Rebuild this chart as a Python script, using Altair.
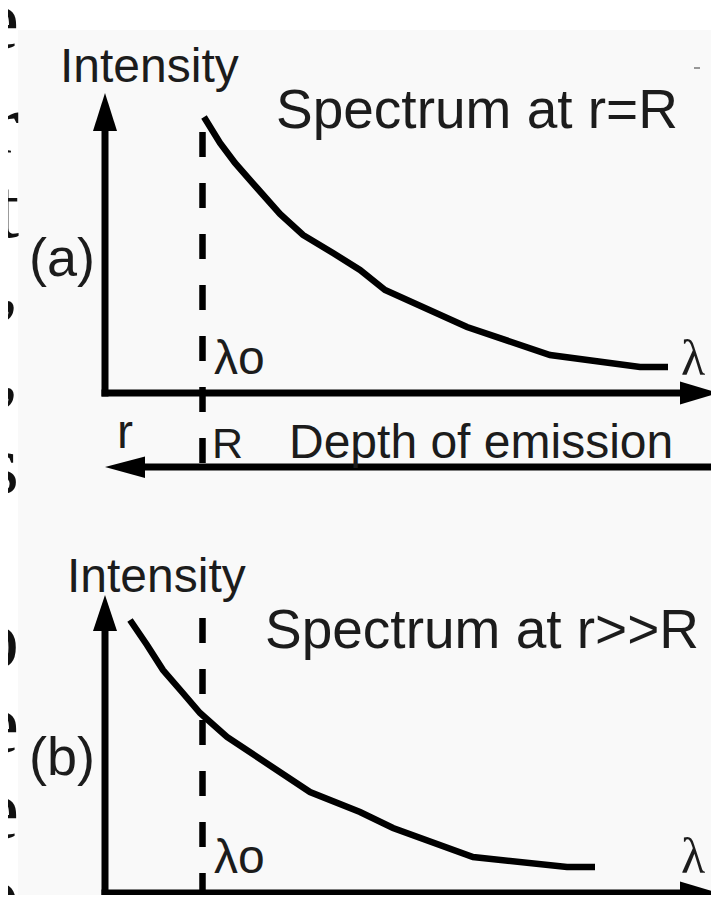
import altair as alt
import pandas as pd

# ---- schematic data (diagram units) ----
# spectrum curve, panel (a): Spectrum at r=R
curve_a_x = [204, 220, 235, 257, 280, 303, 333, 360, 385, 467, 550, 640, 668]
curve_a_y = [117, 143, 163, 188, 214, 235, 253, 270, 290, 327, 355, 367, 367]
# spectrum curve, panel (b): Spectrum at r>>R
curve_b_x = [130, 147, 163, 182, 200, 227, 310, 360, 393, 473, 567, 595]
curve_b_y = [620, 645, 670, 692, 713, 737, 792, 812, 828, 857, 867, 867]

# axis segments: name, x, x2, y, y2
axis_names = ["a_y", "a_x", "depth", "b_y", "b_x"]
axis_x1 = [105, 101.5, 130, 105, 101.5]
axis_x2 = [105, 685, 719, 105, 685]
axis_y1 = [120, 393, 467, 625, 893]
axis_y2 = [396.5, 393, 467, 896.5, 893]

# dashed lambda0 / R markers: x, y-start, y-end
dash_x = [202.5, 202.5]
dash_y1 = [132, 618]
dash_y2 = [463, 895]

# horizontal arrowheads (tip and base): id, x, y, y2
harrow_id = ["a", "a", "b", "b", "d", "d"]
harrow_x = [680, 719, 680, 719, 145, 105]
harrow_y = [381.5, 393, 881.5, 893, 456.5, 467]
harrow_y2 = [404.5, 393, 904.5, 893, 478, 467]

# vertical arrowheads: id, y, x, x2
varrow_id = ["a", "a", "b", "b"]
varrow_y = [93, 131, 595, 631]
varrow_x = [105, 93, 105, 93]
varrow_x2 = [105, 117, 105, 117]

# sans-serif labels: text, x, baseline, size
sans_text = ["Intensity", "Spectrum at r=R", "(a)", "λo", "r", "R",
             "Depth of emission", "Intensity", "Spectrum at r>>R", "(b)", "λo"]
sans_x = [60, 276, 29, 214, 117, 212, 289, 67, 265, 29, 214]
sans_y = [82, 128, 276, 374, 448, 458, 458, 592, 648, 775, 873]
sans_size = [48, 55, 54, 48, 48, 43, 48, 48, 55, 54, 48]

# serif lambda labels at the end of the wavelength axes
serif_text = ["λ", "λ"]
serif_x = [681, 681]
serif_y = [375, 873]
serif_size = [50, 50]

# cropped letters of the surrounding page text (left margin)
page_text = ["e", "r", "t", ",", ",", "s", "o", "e", "e", "o"]
page_y = [48, 152, 237, 310, 397, 493, 667, 752, 838, 923]

# ---- build tables ----
curves = pd.DataFrame({
    "panel": ["a"] * len(curve_a_x) + ["b"] * len(curve_b_x),
    "i": list(range(len(curve_a_x))) + list(range(len(curve_b_x))),
    "x": curve_a_x + curve_b_x,
    "y": curve_a_y + curve_b_y,
})
axes_df = pd.DataFrame({"n": axis_names, "x": axis_x1, "x2": axis_x2,
                        "y": axis_y1, "y2": axis_y2})
dash_df = pd.DataFrame({"x": dash_x, "y": dash_y1, "y2": dash_y2})
harrow = pd.DataFrame({"id": harrow_id, "x": harrow_x, "y": harrow_y, "y2": harrow_y2})
varrow = pd.DataFrame({"id": varrow_id, "y": varrow_y, "x": varrow_x, "x2": varrow_x2})
sans_df = pd.DataFrame({"t": sans_text, "x": sans_x, "y": sans_y, "s": sans_size})
serif_df = pd.DataFrame({"t": serif_text, "x": serif_x, "y": serif_y, "s": serif_size})
page_df = pd.DataFrame({"t": page_text, "x": [19] * len(page_text), "y": page_y})
bg_df = pd.DataFrame({"x": [18], "x2": [719], "y": [30], "y2": [903]})
tick_df = pd.DataFrame({"x": [694], "x2": [700], "y": [68], "y2": [68]})

xs = alt.Scale(domain=[8, 711], nice=False, zero=False)
ys = alt.Scale(domain=[8, 895], nice=False, zero=False, reverse=True)

def X(f):
    return alt.X(f, type="quantitative", scale=xs, axis=None)

def Y(f, **kw):
    return alt.Y(f, type="quantitative", scale=ys, axis=None, **kw)

bg = alt.Chart(bg_df).mark_rect(color="#f9f9f9").encode(
    x=X("x"), x2="x2", y=Y("y"), y2="y2")

page = alt.Chart(page_df).mark_text(
    font="Liberation Serif", fontSize=84, align="right", baseline="alphabetic",
    color="#111111").encode(x=X("x"), y=Y("y"), text="t")

dashed = alt.Chart(dash_df).mark_rule(
    color="black", strokeWidth=6.5, strokeDash=[25, 26], strokeCap="butt").encode(
    x=X("x"), y=Y("y"), y2="y2")

lines = alt.Chart(curves).mark_line(
    color="black", strokeWidth=6.5, strokeJoin="miter", strokeCap="butt").encode(
    x=X("x"), y=Y("y"), detail="panel:N", order="i:Q")

axes = alt.Chart(axes_df).mark_rule(
    color="black", strokeWidth=7, strokeCap="butt").encode(
    x=X("x"), x2="x2", y=Y("y"), y2="y2")

tick = alt.Chart(tick_df).mark_rule(color="#777777", strokeWidth=1.5).encode(
    x=X("x"), x2="x2", y=Y("y"), y2="y2")

harrows = alt.Chart(harrow).mark_area(color="black", interpolate="linear").encode(
    x=X("x"), y=Y("y", stack=False), y2="y2", detail="id:N")

varrows = alt.Chart(varrow).mark_area(
    color="black", orient="horizontal", interpolate="linear").encode(
    y=Y("y"), x=alt.X("x", type="quantitative", scale=xs, axis=None, stack=False),
    x2="x2", detail="id:N")

sans = alt.Chart(sans_df).mark_text(
    font="Liberation Sans", align="left", baseline="alphabetic",
    color="#1c1c1c").encode(
    x=X("x"), y=Y("y"), text="t", size=alt.Size("s:Q", scale=None))

serif = alt.Chart(serif_df).mark_text(
    font="Liberation Serif", align="left", baseline="alphabetic",
    color="#1c1c1c").encode(
    x=X("x"), y=Y("y"), text="t", size=alt.Size("s:Q", scale=None))

chart = alt.layer(
    bg, page, dashed, lines, axes, tick, harrows, varrows, sans, serif
).properties(
    width=703, height=887, padding=0,
    autosize=alt.AutoSizeParams(type="none"),
    background="white",
).configure_view(stroke=None)

chart.save("out.html", embed_options={"renderer": "svg", "actions": False})
